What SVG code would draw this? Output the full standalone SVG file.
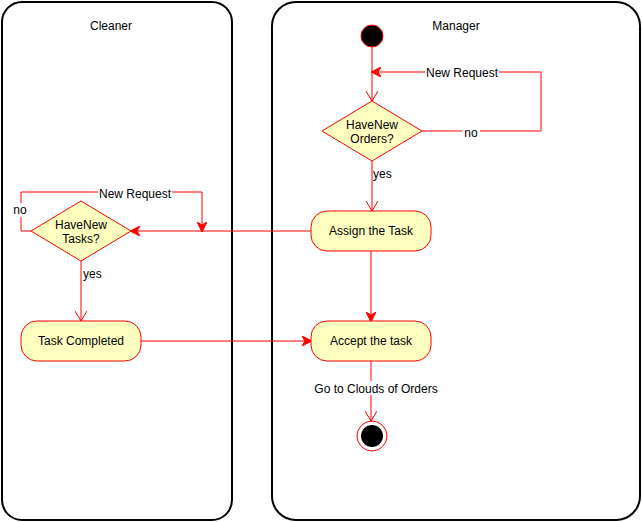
<svg xmlns="http://www.w3.org/2000/svg" width="642" height="522" viewBox="0 0 642 522">
<style>
.lane{fill:#fff;stroke:#000;stroke-width:2}
.node{fill:#ffffc0;stroke:#ff0000;stroke-width:1}
.edge{fill:none;stroke:#ff0000;stroke-width:1}
text{font-family:"Liberation Sans",Arial,Helvetica,sans-serif;font-size:12px;fill:#000}
.c{text-anchor:middle}
.lbl{fill:#fff;stroke:none}
</style>
<defs>
<marker id="block" viewBox="0 0 10 10" refX="9" refY="5" markerWidth="10" markerHeight="10" markerUnits="userSpaceOnUse" orient="auto">
<path d="M0,0 L10,5 L0,10 L3,5 Z" fill="#ff0000" stroke="#ff0000" stroke-width="1"/>
</marker>
<marker id="open" viewBox="0 0 10 12" refX="10" refY="6" markerWidth="10" markerHeight="12" markerUnits="userSpaceOnUse" orient="auto">
<path d="M0,0 L10,6 L0,12" fill="none" stroke="#ff0000" stroke-width="1"/>
</marker>
</defs>
<g id="lane-cleaner">
<rect class="lane" x="2" y="2" width="230" height="518" rx="20" ry="20"/>
<text class="c" x="111" y="30">Cleaner</text>
</g>
<g id="lane-manager">
<rect class="lane" x="272" y="2" width="368" height="518" rx="24" ry="24"/>
<text class="c" x="456" y="30">Manager</text>
</g>
<g id="connectors">
<path class="edge" d="M372,47 L372,101" marker-end="url(#open)"/>
<path class="edge" d="M421,131 L541,131 L541,72 L372,72" marker-end="url(#block)"/>
<path class="edge" d="M372,161 L372,211" marker-end="url(#open)"/>
<path class="edge" d="M311,231 L131,231" marker-end="url(#block)"/>
<path class="edge" d="M31,231 L21,231 L21,192 L202,192 L202,231" marker-end="url(#block)"/>
<path class="edge" d="M81,261 L81,321" marker-end="url(#open)"/>
<path class="edge" d="M371,251 L371,321" marker-end="url(#block)"/>
<path class="edge" d="M141,341 L311,341" marker-end="url(#block)"/>
<path class="edge" d="M371,361 L371,421" marker-end="url(#open)"/>
<rect class="lbl" x="425" y="65" width="74" height="14"/>
<text class="c" x="462" y="77">New Request</text>
<rect class="lbl" x="462" y="126" width="18" height="14"/>
<text class="c" x="471" y="137">no</text>
<text x="373" y="178">yes</text>
<rect class="lbl" x="98" y="186" width="74" height="14"/>
<text class="c" x="135" y="198">New Request</text>
<rect class="lbl" x="11" y="203" width="18" height="14"/>
<text class="c" x="20" y="214">no</text>
<text x="83" y="278">yes</text>
<rect class="lbl" x="313" y="381" width="126" height="14"/>
<text class="c" x="376" y="393">Go to Clouds of Orders</text>
</g>
<g id="start">
<circle cx="372" cy="36" r="11" fill="#000" stroke="#ff0000" stroke-width="1"/>
</g>
<g id="have-new-orders">
<path class="node" d="M372,101 L422,131 L372,161 L322,131 Z"/>
<text class="c" x="372" y="129">HaveNew</text>
<text class="c" x="372" y="143">Orders?</text>
</g>
<g id="assign-task">
<rect class="node" x="311" y="211" width="120" height="40" rx="16" ry="16"/>
<text class="c" x="371" y="235">Assign the Task</text>
</g>
<g id="accept-task">
<rect class="node" x="311" y="321" width="120" height="40" rx="16" ry="16"/>
<text class="c" x="371" y="345">Accept the task</text>
</g>
<g id="end">
<circle cx="372" cy="436" r="15" fill="#fff" stroke="#ff0000" stroke-width="1"/>
<circle cx="372" cy="436" r="11" fill="#000"/>
</g>
<g id="have-new-tasks">
<path class="node" d="M81,201 L131,231 L81,261 L31,231 Z"/>
<text class="c" x="81" y="229">HaveNew</text>
<text class="c" x="81" y="243">Tasks?</text>
</g>
<g id="task-completed">
<rect class="node" x="21" y="321" width="120" height="40" rx="16" ry="16"/>
<text class="c" x="81" y="345">Task Completed</text>
</g>
</svg>
